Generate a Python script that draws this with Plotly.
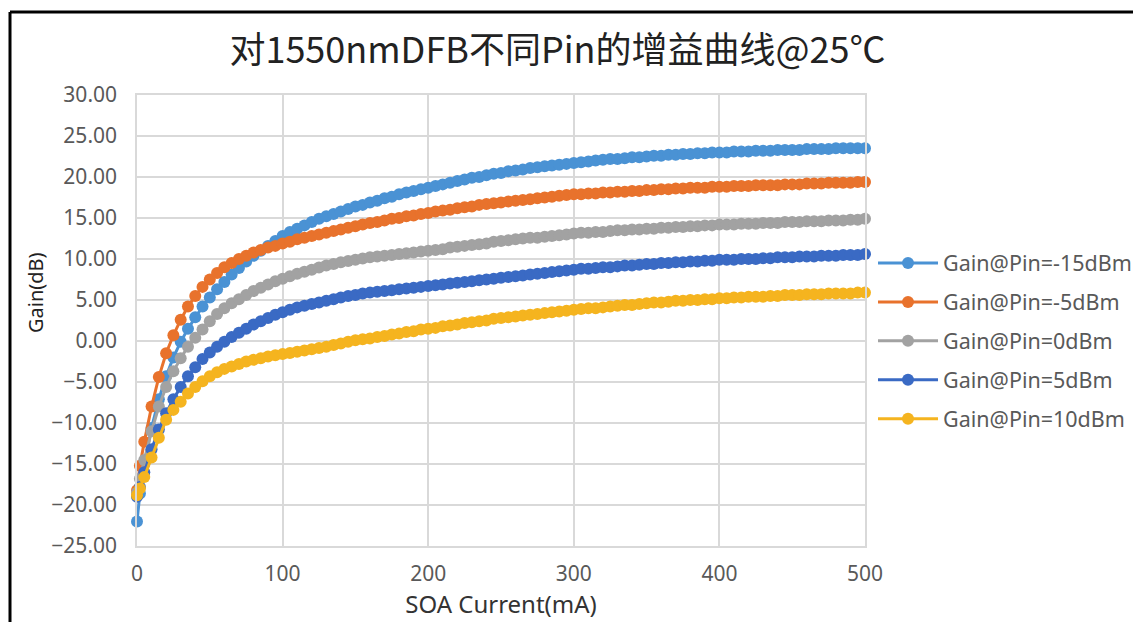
import plotly.graph_objects as go

# SOA drive current (mA), sampling grid of the measurement
CURRENT_MA = [0, 2] + list(range(5, 505, 5))

GAIN_PIN_M15 = [
    -22.0, -18.6, -15.0, -10.6, -7.1, -4.3, -2.0, -0.1, 1.5, 2.9,
    4.2, 5.3, 6.3, 7.2, 8.1, 8.9, 9.7, 10.4, 11.0, 11.6,
    12.2, 12.8, 13.3, 13.7, 14.1, 14.5, 14.9, 15.2, 15.5, 15.8,
    16.1, 16.4, 16.6, 16.9, 17.1, 17.4, 17.6, 17.9, 18.1, 18.3,
    18.5, 18.7, 18.9, 19.1, 19.3, 19.5, 19.7, 19.9, 20.0, 20.2,
    20.4, 20.5, 20.7, 20.8, 20.9, 21.1, 21.2, 21.3, 21.4, 21.5,
    21.6, 21.7, 21.8, 21.9, 22.0, 22.1, 22.2, 22.2, 22.3, 22.4,
    22.4, 22.5, 22.6, 22.6, 22.7, 22.7, 22.8, 22.8, 22.9, 22.9,
    23.0, 23.0, 23.0, 23.1, 23.1, 23.1, 23.2, 23.2, 23.2, 23.3,
    23.3, 23.3, 23.3, 23.4, 23.4, 23.4, 23.4, 23.5, 23.5, 23.5,
    23.5, 23.5,
]
GAIN_PIN_M5 = [
    -18.2, -15.2, -12.3, -8.0, -4.4, -1.5, 0.7, 2.6, 4.2, 5.5,
    6.6, 7.5, 8.3, 9.0, 9.5, 10.0, 10.4, 10.8, 11.1, 11.4,
    11.6, 11.9, 12.1, 12.4, 12.6, 12.8, 13.0, 13.2, 13.4, 13.6,
    13.8, 14.0, 14.2, 14.4, 14.5, 14.7, 14.9, 15.0, 15.2, 15.3,
    15.5, 15.6, 15.8, 15.9, 16.0, 16.2, 16.3, 16.4, 16.6, 16.7,
    16.8, 16.9, 17.0, 17.1, 17.2, 17.3, 17.4, 17.5, 17.6, 17.7,
    17.8, 17.9, 17.9, 18.0, 18.0, 18.1, 18.1, 18.2, 18.2, 18.3,
    18.3, 18.4, 18.4, 18.5, 18.5, 18.6, 18.6, 18.7, 18.7, 18.7,
    18.8, 18.8, 18.8, 18.9, 18.9, 18.9, 19.0, 19.0, 19.0, 19.0,
    19.1, 19.1, 19.1, 19.2, 19.2, 19.2, 19.3, 19.3, 19.3, 19.3,
    19.4, 19.4,
]
GAIN_PIN_0 = [
    -18.5, -16.8, -14.5, -11.0, -8.0, -5.6, -3.7, -2.1, -0.7, 0.4,
    1.4, 2.4, 3.3, 4.0, 4.6, 5.1, 5.6, 6.1, 6.5, 6.9,
    7.3, 7.6, 7.9, 8.2, 8.45, 8.7, 8.95, 9.2, 9.4, 9.6,
    9.75, 9.9, 10.05, 10.2, 10.3, 10.4, 10.5, 10.6, 10.7, 10.8,
    10.9, 11.0, 11.1, 11.2, 11.4, 11.5, 11.6, 11.7, 11.8, 11.9,
    12.1, 12.2, 12.3, 12.4, 12.5, 12.6, 12.6, 12.7, 12.8, 12.9,
    13.0, 13.1, 13.2, 13.2, 13.3, 13.3, 13.4, 13.5, 13.5, 13.6,
    13.6, 13.7, 13.7, 13.8, 13.8, 13.9, 13.9, 14.0, 14.0, 14.1,
    14.1, 14.2, 14.2, 14.2, 14.3, 14.3, 14.3, 14.4, 14.4, 14.4,
    14.5, 14.5, 14.5, 14.6, 14.6, 14.6, 14.7, 14.7, 14.7, 14.8,
    14.8, 14.9,
]
GAIN_PIN_5 = [
    -19.0, -17.8, -16.0, -13.2, -10.8, -8.8, -7.1, -5.6, -4.3, -3.2,
    -2.2, -1.4, -0.7, -0.1, 0.5, 1.0, 1.5, 2.0, 2.4, 2.8,
    3.2, 3.5, 3.8, 4.1, 4.3, 4.5, 4.7, 4.9, 5.1, 5.3,
    5.5, 5.6, 5.8, 5.9, 6.0, 6.1, 6.2, 6.3, 6.4, 6.5,
    6.6, 6.7, 6.8, 6.9, 7.0, 7.1, 7.2, 7.3, 7.4, 7.5,
    7.6, 7.7, 7.8, 7.9, 8.0, 8.1, 8.2, 8.3, 8.4, 8.5,
    8.6, 8.7, 8.8, 8.8, 8.9, 9.0, 9.0, 9.1, 9.2, 9.2,
    9.3, 9.4, 9.4, 9.5, 9.5, 9.6, 9.6, 9.7, 9.7, 9.8,
    9.8, 9.9, 9.9, 9.9, 10.0, 10.0, 10.0, 10.1, 10.1, 10.2,
    10.2, 10.2, 10.3, 10.3, 10.3, 10.4, 10.4, 10.4, 10.5, 10.5,
    10.5, 10.6,
]
GAIN_PIN_10 = [
    -18.8, -18.0, -16.6, -14.2, -11.8, -9.6, -8.4, -7.4, -6.4, -5.6,
    -4.9, -4.3, -3.8, -3.4, -3.1, -2.8, -2.5, -2.3, -2.1, -1.9,
    -1.75, -1.6, -1.45, -1.3, -1.15, -1.0, -0.85, -0.7, -0.5, -0.3,
    -0.1, 0.1, 0.2, 0.3, 0.5, 0.6, 0.8, 0.9, 1.1, 1.2,
    1.4, 1.5, 1.6, 1.8, 1.9, 2.0, 2.2, 2.3, 2.4, 2.5,
    2.7, 2.8, 2.9, 3.0, 3.1, 3.2, 3.3, 3.4, 3.5, 3.6,
    3.7, 3.8, 3.9, 4.0, 4.0, 4.1, 4.2, 4.3, 4.4, 4.4,
    4.5, 4.6, 4.7, 4.7, 4.8, 4.9, 4.9, 5.0, 5.0, 5.1,
    5.1, 5.2, 5.2, 5.3, 5.3, 5.4, 5.4, 5.4, 5.5, 5.5,
    5.6, 5.6, 5.6, 5.7, 5.7, 5.7, 5.8, 5.8, 5.8, 5.8,
    5.9, 5.9,
]

SERIES_NAMES = ['Gain@Pin=-15dBm', 'Gain@Pin=-5dBm', 'Gain@Pin=0dBm',
                'Gain@Pin=5dBm', 'Gain@Pin=10dBm']
SERIES = [GAIN_PIN_M15, GAIN_PIN_M5, GAIN_PIN_0, GAIN_PIN_5, GAIN_PIN_10]
COLORS = ['#4A92D4', '#E8722C', '#A2A2A2', '#3A6AC4', '#F5B41F']

Y_TICKS = [30, 25, 20, 15, 10, 5, 0, -5, -10, -15, -20, -25]
X_TICKS = [0, 100, 200, 300, 400, 500]

fig = go.Figure()
for i, (name, vals, col) in enumerate(zip(SERIES_NAMES, SERIES, COLORS)):
    fig.add_trace(go.Scatter(
        x=CURRENT_MA, y=vals,
        mode='lines+markers',
        name=name,
        legendgroup=f'g{i}',
        line=dict(color=col, width=3),
        marker=dict(color=col, size=12),
        cliponaxis=False,
    ))

grid = '#D9D9D9'
tick_font = dict(family='Noto Sans', size=21, color='#595959')

# the page body adds an 8px offset, so the figure is 8px smaller than the window
fig.update_layout(
    width=1133, height=614,
    margin=dict(l=129, r=276, t=87, b=76, autoexpand=False),
    paper_bgcolor='white', plot_bgcolor='white',
    title=dict(
        text='对1550nmDFB不同Pin的增益曲线@25℃',
        x=0.485, xanchor='center', y=1 - 42 / 614, yanchor='middle',
        font=dict(family='Noto Sans CJK SC', size=36, color='#222222'),
    ),
    xaxis=dict(
        range=[0, 500], tickvals=X_TICKS,
        showgrid=True, gridcolor=grid, gridwidth=1.5,
        showline=True, linecolor=grid, linewidth=1.5, mirror=True,
        zeroline=False, ticks='', ticklabelstandoff=8,
        tickfont=tick_font,
        title=dict(text='SOA Current(mA)', standoff=4,
                   font=dict(family='Noto Sans', size=24, color='#333333')),
    ),
    yaxis=dict(
        range=[-25, 30], tickvals=Y_TICKS,
        tickformat='.2f',
        showgrid=True, gridcolor=grid, gridwidth=1.5,
        showline=True, linecolor=grid, linewidth=1.5, mirror=True,
        zeroline=False, ticks='', ticklabelstandoff=14,
        tickfont=tick_font,
    ),
    legend=dict(
        x=1.011, xanchor='left', y=0.673, yanchor='top',
        font=dict(family='Noto Sans', size=21.5, color='#595959'),
        tracegroupgap=8, itemwidth=60,
        bgcolor='rgba(0,0,0,0)',
    ),
    annotations=[dict(
        text='Gain(dB)', xref='paper', yref='paper',
        x=(35 - 137) / 728, xanchor='center',
        y=(546 - 293) / 451, yanchor='middle',
        textangle=-90, showarrow=False,
        font=dict(family='Noto Sans', size=20, color='#222222'),
    )],
    shapes=[
        dict(type='line', xref='paper', yref='paper',
             x0=(10 - 137) / 728, x1=(10 - 137) / 728,
             y0=-0.3, y1=(546 - 12) / 451,
             line=dict(color='black', width=3)),
        dict(type='line', xref='paper', yref='paper',
             x0=(10 - 137) / 728, x1=1.5,
             y0=(546 - 12) / 451, y1=(546 - 12) / 451,
             line=dict(color='black', width=3)),
    ],
)

fig.write_html("out.html")
